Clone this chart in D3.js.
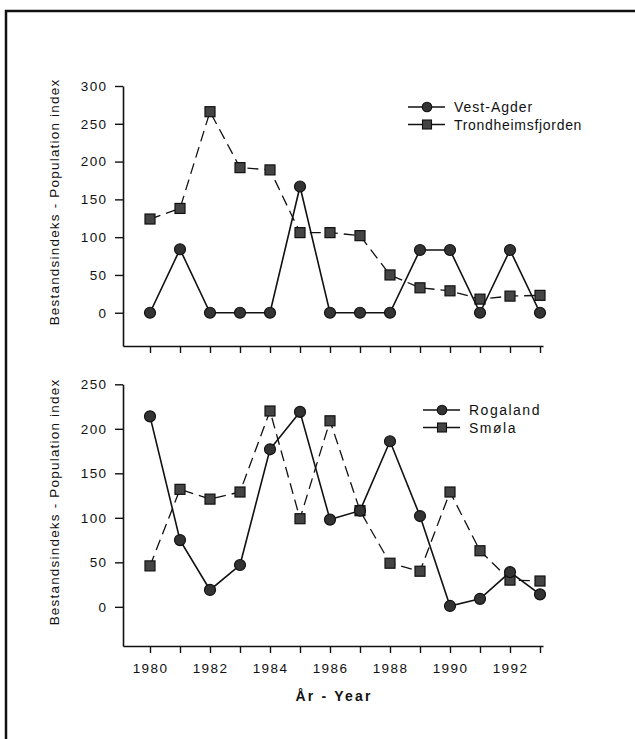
<!DOCTYPE html>
<html>
<head>
<meta charset="utf-8">
<script src="https://cdn.jsdelivr.net/npm/d3@7"></script>
<style>
  html, body { margin: 0; padding: 0; background: #fff; }
  svg { display: block; }
  text { font-family: "Liberation Sans", Arial, Helvetica, sans-serif; fill: #111; }
</style>
</head>
<body>
<svg id="chart" width="635" height="739"></svg>
<script>
// Years on the shared x axis
const years = [1980, 1981, 1982, 1983, 1984, 1985, 1986, 1987, 1988, 1989, 1990, 1991, 1992, 1993];
const yearLabels = [1980, 1982, 1984, 1986, 1988, 1990, 1992];

// Upper panel: population index
const vestAgder = [0, 84, 0, 0, 0, 167, 0, 0, 0, 83, 83, 0, 83, 0];
const trondheimsfjorden = [124, 138, 266, 192, 189, 106, 106, 102, 50, 33, 29, 18, 22, 23];
const topTicks = [0, 50, 100, 150, 200, 250, 300];

// Lower panel: population index
const rogaland = [214, 75, 19, 47, 177, 219, 98, 108, 186, 102, 1, 9, 39, 14];
const smola = [46, 132, 121, 129, 220, 99, 209, 108, 49, 40, 129, 63, 30, 29];
const bottomTicks = [0, 50, 100, 150, 200, 250];

const svg = d3.select("#chart");

// Page frame
svg.append("path")
  .attr("d", "M6,739 L6,11 L635,11")
  .attr("fill", "none")
  .attr("stroke", "#111")
  .attr("stroke-width", 2.5);

const x = d3.scaleLinear().domain([1979.1, 1993.1]).range([123, 543]);

function panel(opts) {
  const g = svg.append("g");
  const y = d3.scaleLinear().domain(opts.domain).range(opts.range);

  // y axis
  const ya = g.append("g")
    .attr("transform", `translate(${x.range()[0]},0)`)
    .call(d3.axisLeft(y).tickValues(opts.ticks).tickSize(8).tickSizeOuter(0).tickPadding(7.5));
  // x axis
  const xa = g.append("g")
    .attr("transform", `translate(0,${opts.range[0]})`)
    .call(d3.axisBottom(x).tickValues(years).tickSize(7).tickSizeOuter(0).tickPadding(10.5)
      .tickFormat(d => (opts.xLabels && yearLabels.includes(d)) ? String(d) : ""));

  [ya, xa].forEach(a => {
    a.select(".domain").attr("stroke", "#111").attr("stroke-width", 1.6);
    a.selectAll(".tick line").attr("stroke", "#111").attr("stroke-width", 1.4);
    a.selectAll(".tick text")
      .attr("font-family", "'Liberation Sans', Arial, sans-serif")
      .attr("font-size", 13.5)
      .attr("letter-spacing", 1.4)
      .attr("fill", "#111");
  });

  // y axis title
  g.append("text")
    .attr("transform", `translate(59,${opts.titleY}) rotate(-90)`)
    .attr("text-anchor", "middle")
    .attr("font-size", 13.5)
    .attr("letter-spacing", 1.2)
    .text("Bestandsindeks - Population index");

  const line = d3.line().x((d, i) => x(years[i])).y(d => y(d));

  // dashed series with squares
  g.append("path")
    .datum(opts.squares)
    .attr("d", line)
    .attr("fill", "none")
    .attr("stroke", "#111")
    .attr("stroke-width", 1.3)
    .attr("stroke-dasharray", "11,6");
  g.append("g").selectAll("rect")
    .data(opts.squares)
    .join("rect")
    .attr("x", (d, i) => x(years[i]) - 5)
    .attr("y", d => y(d) - 5)
    .attr("width", 10)
    .attr("height", 10)
    .attr("fill", "#444")
    .attr("stroke", "#111")
    .attr("stroke-width", 1.2);

  // solid series with circles
  g.append("path")
    .datum(opts.circles)
    .attr("d", line)
    .attr("fill", "none")
    .attr("stroke", "#111")
    .attr("stroke-width", 1.6);
  g.append("g").selectAll("circle")
    .data(opts.circles)
    .join("circle")
    .attr("cx", (d, i) => x(years[i]))
    .attr("cy", d => y(d))
    .attr("r", 5.5)
    .attr("fill", "#333")
    .attr("stroke", "#111")
    .attr("stroke-width", 1.2);

  // legend
  const lg = g.append("g");
  opts.legend.forEach((item, k) => {
    const ly = opts.legendY + k * 17.5;
    lg.append("line")
      .attr("x1", opts.legendX).attr("x2", opts.legendX + 37)
      .attr("y1", ly).attr("y2", ly)
      .attr("stroke", "#111").attr("stroke-width", 1.3);
    const mx = opts.legendX + 19;
    if (item.shape === "circle") {
      lg.append("circle").attr("cx", mx).attr("cy", ly).attr("r", 4.8)
        .attr("fill", "#333").attr("stroke", "#111").attr("stroke-width", 1.1);
    } else {
      lg.append("rect").attr("x", mx - 4.5).attr("y", ly - 4.5).attr("width", 9).attr("height", 9)
        .attr("fill", "#444").attr("stroke", "#111").attr("stroke-width", 1.1);
    }
    lg.append("text")
      .attr("x", opts.legendX + opts.textGap)
      .attr("y", ly + 5)
      .attr("font-size", 14)
      .attr("letter-spacing", item.ls)
      .text(item.name);
  });
}

panel({
  domain: [-44, 300], range: [346, 86], ticks: topTicks,
  circles: vestAgder, squares: trondheimsfjorden,
  titleY: 202, xLabels: false,
  legendX: 408, legendY: 107, textGap: 46,
  legend: [{ name: "Vest-Agder", shape: "circle", ls: 1 },
           { name: "Trondheimsfjorden", shape: "square", ls: 0.7 }]
});

panel({
  domain: [-44, 250], range: [646, 384.3], ticks: bottomTicks,
  circles: rogaland, squares: smola,
  titleY: 502, xLabels: true,
  legendX: 423, legendY: 410, textGap: 46,
  legend: [{ name: "Rogaland", shape: "circle", ls: 1.5 },
           { name: "Smøla", shape: "square", ls: 1.5 }]
});

// x axis title
svg.append("text")
  .attr("x", 334)
  .attr("y", 701)
  .attr("text-anchor", "middle")
  .attr("font-size", 14)
  .attr("font-weight", "bold")
  .attr("letter-spacing", 2.2)
  .text("År - Year");
</script>
</body>
</html>
